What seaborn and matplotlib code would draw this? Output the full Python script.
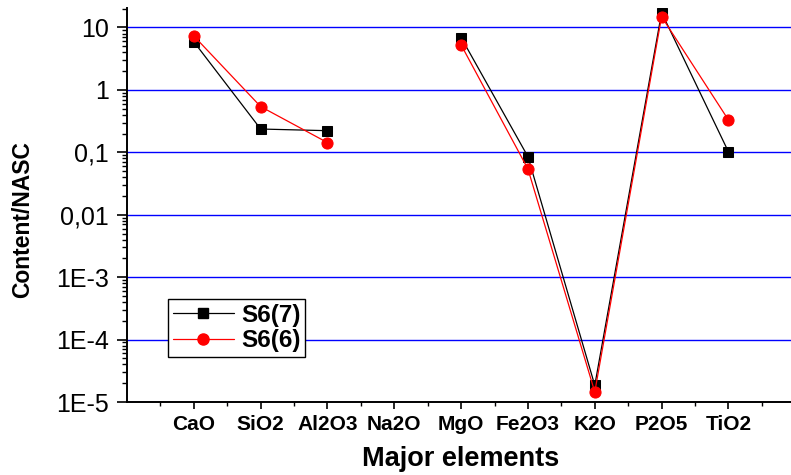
import numpy as np
import pandas as pd
import matplotlib
matplotlib.use("Agg")
import matplotlib.pyplot as plt
import seaborn as sns
from matplotlib.lines import Line2D
from matplotlib.ticker import LogLocator, NullFormatter, FixedLocator, FixedFormatter

# ---- data ----
categories = ["CaO", "SiO2", "Al2O3", "Na2O", "MgO", "Fe2O3", "K2O", "P2O5", "TiO2"]
s6_7 = [5.9, 0.236, 0.222, np.nan, 6.9, 0.085, 1.85e-5, 17.3, 0.102]
s6_6 = [7.3, 0.54, 0.143, np.nan, 5.25, 0.054, 1.45e-5, 14.9, 0.33]
segments = [0, 0, 0, np.nan, 1, 1, 1, 1, 1]
ytick_vals = [1e-5, 1e-4, 1e-3, 1e-2, 1e-1, 1, 10]
ytick_labels = ["1E-5", "1E-4", "1E-3", "0,01", "0,1", "1", "10"]

sns.set_style("ticks")
plt.rcParams["font.family"] = ["Liberation Sans", "DejaVu Sans"]
plt.rcParams.update({"text.color": "black", "axes.labelcolor": "black",
                     "xtick.color": "black", "ytick.color": "black",
                     "axes.edgecolor": "black"})

pos = np.arange(1, len(categories) + 1)
df = pd.DataFrame({"pos": np.concatenate([pos, pos]),
                   "val": s6_7 + s6_6,
                   "seg": segments + segments,
                   "series": ["S6(7)"] * 9 + ["S6(6)"] * 9}).dropna()

fig = plt.figure(figsize=(7.91, 4.75), dpi=100)
ax = fig.add_axes([127 / 791, 1 - 402 / 475, 1 - 127 / 791 + 0.002, (402 - 8) / 475])

ax.set_yscale("log")
# grid lines
for v in ytick_vals:
    ax.axhline(v, color="#0000ff", lw=1.0, zorder=1)

sns.lineplot(data=df[df.series == "S6(7)"], x="pos", y="val", units="seg", estimator=None,
             color="black", marker="s", markersize=7, markeredgecolor="black",
             linewidth=0.9, ax=ax, legend=False, zorder=3)
sns.lineplot(data=df[df.series == "S6(6)"], x="pos", y="val", units="seg", estimator=None,
             color="red", marker="o", markersize=8, markeredgecolor="red",
             linewidth=0.9, ax=ax, legend=False, zorder=4)

ax.set_xlim(0, 9.96)
ax.set_ylim(1e-5, 20.5)

ax.set_xticks(pos)
ax.set_xticklabels(categories, fontsize=15, fontweight="bold")
ax.xaxis.set_minor_locator(FixedLocator(np.arange(0.5, 10, 1.0)))
ax.yaxis.set_major_locator(FixedLocator(ytick_vals))
ax.yaxis.set_major_formatter(FixedFormatter(ytick_labels))
ax.yaxis.set_minor_locator(LogLocator(base=10, subs=np.arange(2, 10), numticks=20))
ax.yaxis.set_minor_formatter(NullFormatter())
ax.tick_params(axis="y", which="major", labelsize=18, length=7, width=1.2, pad=6, direction="out")
ax.tick_params(axis="y", which="minor", length=3.5, width=1.0, direction="out")
ax.tick_params(axis="x", which="major", length=5, width=1.2, pad=4, direction="out")
ax.tick_params(axis="x", which="minor", length=3, width=1.0, direction="out")

for s in ["top", "right"]:
    ax.spines[s].set_visible(False)
for s in ["left", "bottom"]:
    ax.spines[s].set_linewidth(1.4)
    ax.spines[s].set_color("black")

ax.set_xlabel("Major elements", fontsize=19.5, fontweight="bold", color="black")
ax.set_ylabel("Content/NASC", fontsize=16.5, fontweight="bold", color="black")
ax.xaxis.set_label_coords((460 - 127) / 664, -(446 - 402) / 394)
ax.yaxis.set_label_coords(-(127 - 34) / 664, (402 - 220) / 394)

handles = [Line2D([], [], color="black", marker="s", markersize=7, lw=0.9),
           Line2D([], [], color="red", marker="o", markersize=8, lw=0.9)]
leg = ax.legend(handles, ["S6(7)", "S6(6)"], loc="upper left",
                bbox_to_anchor=((168 - 127) / 664, (402 - 299) / 394),
                borderaxespad=0, frameon=True, fancybox=False, edgecolor="black",
                prop={"weight": "bold", "size": 17.5}, handlelength=2.5,
                handletextpad=0.3, labelspacing=0.1, borderpad=0.2, framealpha=1)
leg.get_frame().set_linewidth(1.0)
for t in leg.get_texts():
    t.set_color("black")

fig.savefig("out.png", dpi=100)
